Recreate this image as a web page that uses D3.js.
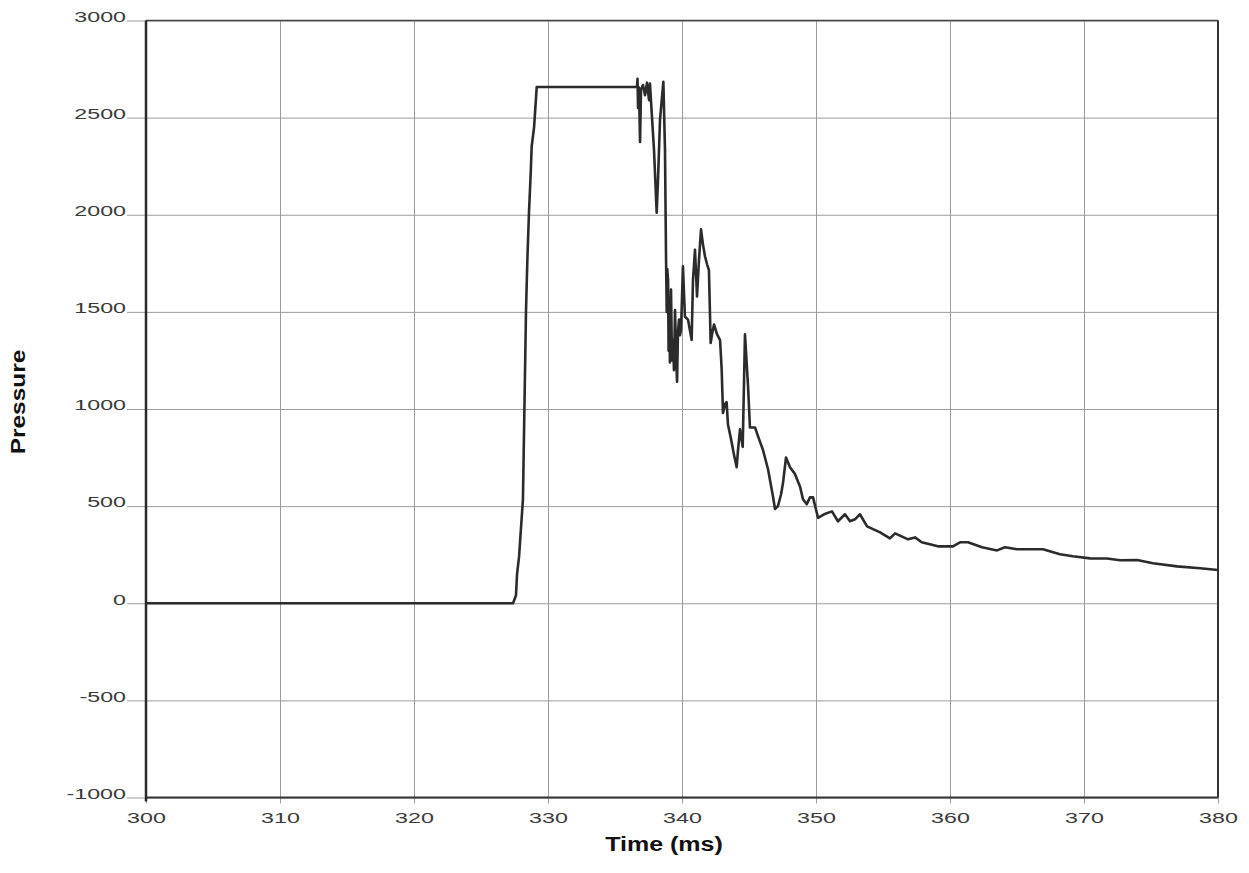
<!DOCTYPE html>
<html>
<head>
<meta charset="utf-8">
<script src="https://cdn.jsdelivr.net/npm/d3@7"></script>
<style>
  body { margin: 0; background: #fff; }
  text { font-family: "Liberation Sans", Arial, sans-serif; }
</style>
</head>
<body>
<script>
// time axis (ms) and pressure samples
var timeMs = [300, 327.39, 327.61, 327.69, 327.84, 328.13, 328.36, 328.46, 328.58, 328.71, 328.78, 328.96, 329.16,
  336.64, 336.68, 336.72, 336.79, 336.87, 336.94, 337.09, 337.24, 337.39, 337.54, 337.61, 337.74, 337.91, 338.11,
  338.21, 338.36, 338.61, 338.73, 338.81, 338.86, 338.90, 338.96, 339.00, 339.03, 339.10, 339.14, 339.18, 339.25,
  339.33, 339.40, 339.48, 339.55, 339.63, 339.70, 339.78, 339.85, 339.93,
  340.07, 340.22, 340.45, 340.72, 340.82, 340.97, 341.12, 341.27, 341.42, 341.57, 341.72, 341.87, 342.01, 342.14,
  342.24, 342.39, 342.61, 342.84, 342.96, 343.06, 343.21, 343.33, 343.43, 343.66, 343.88, 344.08, 344.18, 344.33,
  344.53, 344.70, 344.93, 345.07, 345.45, 345.75, 346.04, 346.42, 346.79, 346.94, 347.16, 347.39, 347.54, 347.76,
  348.06, 348.43, 348.81, 349.03, 349.31, 349.55, 349.78, 350.15, 350.60, 351.19, 351.64, 352.16, 352.54, 352.91,
  353.28, 353.81, 354.78, 355.52, 355.90, 356.87, 357.39, 357.89, 359.10, 360.22, 360.75, 361.34, 362.39, 363.51,
  364.10, 365.00, 366.94, 368.21, 369.18, 370.45, 371.72, 372.69, 373.96, 375.15, 376.94, 378.66, 380];
var pressure = [0, 0, 40, 150, 240, 535, 1510, 1770, 2010, 2215, 2350, 2450, 2658,
  2658, 2700, 2550, 2655, 2375, 2645, 2668, 2615, 2680, 2590, 2675, 2525, 2335, 2010,
  2180, 2490, 2685, 2335, 1770, 1500, 1720, 1665, 1300, 1560, 1240, 1500, 1615, 1250,
  1355, 1200, 1510, 1300, 1140, 1400, 1460, 1380, 1410,
  1735, 1475, 1460, 1355, 1665, 1820, 1580, 1770, 1925, 1845, 1785, 1745, 1715, 1340,
  1385, 1435, 1385, 1355, 1205, 980, 1025, 1035, 920, 845, 765, 700, 790, 895,
  805, 1385, 1115, 905, 905, 845, 790, 690, 550, 485, 500, 560, 620, 750,
  700, 665, 600, 535, 510, 545, 545, 440, 458, 473, 422, 458, 422, 432,
  458, 396, 365, 334, 360, 329, 339, 314, 293, 293, 314, 314, 288, 272,
  288, 278, 278, 252, 242, 231, 230, 221, 223, 206, 190, 180, 171];

var xTicks = [300, 310, 320, 330, 340, 350, 360, 370, 380];
var yTicks = [-1000, -500, 0, 500, 1000, 1500, 2000, 2500, 3000];

var W = 1249, H = 873;
var plot = {x0: 146, x1: 1218, y0: 20.5, y1: 797.5};

var svg = d3.select("body").append("svg").attr("width", W).attr("height", H);

var x = d3.scaleLinear().domain([300, 380]).range([plot.x0, plot.x1]);
var y = d3.scaleLinear().domain([-1000, 3000]).range([plot.y1, plot.y0]);

// plain hyphen for negatives, as in the original
var fmt = function(d){ return String(d); };

// stretch labels horizontally like the wide face in the original
function widen(sel, k){
  sel.each(function(){
    var w = this.getComputedTextLength();
    d3.select(this).attr("textLength", w * k).attr("lengthAdjust", "spacingAndGlyphs");
  });
}

// y grid + labels
var gy = svg.append("g").attr("transform", "translate(" + plot.x0 + ",0)")
  .call(d3.axisLeft(y).tickValues(yTicks).tickSize(-(plot.x1 - plot.x0)).tickPadding(0).tickFormat(fmt));
gy.select(".domain").remove();
gy.selectAll(".tick line").attr("stroke", "#9c9c9c").attr("stroke-width", 1).attr("x1", -19);
gy.selectAll(".tick text").attr("x", -20).attr("dy", "0.05em")
  .attr("fill", "#3a3a3a").style("font-size", "15.5px").style("font-family", "'Liberation Sans', Arial, sans-serif");
widen(gy.selectAll(".tick text"), 1.5);

// x grid + labels
var gx = svg.append("g").attr("transform", "translate(0," + plot.y1 + ")")
  .call(d3.axisBottom(x).tickValues(xTicks).tickSize(-(plot.y1 - plot.y0)).tickPadding(14).tickFormat(fmt));
gx.select(".domain").remove();
gx.selectAll(".tick line").attr("stroke", "#9c9c9c").attr("stroke-width", 1).attr("y1", 6);
gx.selectAll(".tick text").attr("fill", "#3a3a3a").style("font-size", "15.5px")
  .style("font-family", "'Liberation Sans', Arial, sans-serif");
widen(gx.selectAll(".tick text"), 1.5);

// frame
svg.append("line").attr("x1", plot.x0).attr("x2", plot.x1).attr("y1", plot.y0).attr("y2", plot.y0)
  .attr("stroke", "#444").attr("stroke-width", 1.5);
svg.append("line").attr("x1", plot.x1).attr("x2", plot.x1).attr("y1", plot.y0).attr("y2", plot.y1)
  .attr("stroke", "#333").attr("stroke-width", 2);
svg.append("line").attr("x1", plot.x0).attr("x2", plot.x1).attr("y1", plot.y1).attr("y2", plot.y1)
  .attr("stroke", "#333").attr("stroke-width", 2);
svg.append("line").attr("x1", plot.x0).attr("x2", plot.x0).attr("y1", plot.y0).attr("y2", plot.y1 + 4)
  .attr("stroke", "#2a2a2a").attr("stroke-width", 2.5);

// pressure trace
var pts = timeMs.map(function(t, i){ return [t, pressure[i]]; });
svg.append("path").datum(pts)
  .attr("fill", "none").attr("stroke", "#2b2b2b").attr("stroke-width", 2.6).attr("stroke-linejoin", "round")
  .attr("d", d3.line().x(function(d){ return x(d[0]); }).y(function(d){ return y(d[1]); }));

// axis titles
var xt = svg.append("text").attr("x", (plot.x0 + plot.x1) / 2 - 18).attr("y", 851).attr("text-anchor", "middle")
  .style("font-size", "20px").style("font-weight", "bold").attr("fill", "#111").text("Time (ms)");
widen(xt, 1.25);
var yt = svg.append("text").attr("transform", "translate(25,402) rotate(-90)").attr("text-anchor", "middle")
  .style("font-size", "20px").style("font-weight", "bold").attr("fill", "#111").text("Pressure");
widen(yt, 1.22);
</script>
</body>
</html>
